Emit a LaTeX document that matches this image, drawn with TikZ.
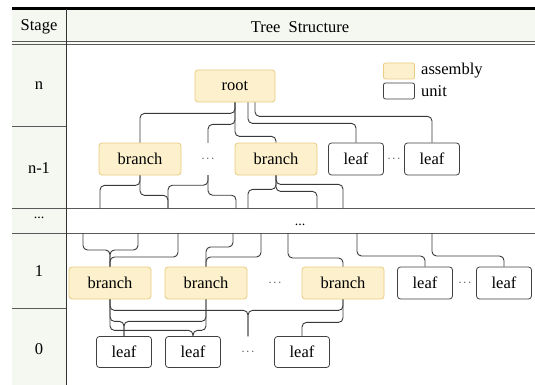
\documentclass[tikz,border=0pt]{standalone}
\usepackage[svgnames]{xcolor}
\usepackage{fontspec}
\setmainfont{Liberation Serif}
\usepackage{tikz}
\definecolor{assemblyfill}{HTML}{FDF1CD}
\definecolor{assemblyline}{HTML}{EACB82}
\definecolor{headfill}{HTML}{F5F7F1}
\colorlet{linkcol}{black!78}

\begin{document}
\begin{tikzpicture}[x=1pt,y=-1pt,
  every node/.style={font=\fontsize{16.5}{19}\selectfont, inner sep=0pt},
  box/.style={rounded corners=3pt, minimum height=32pt, line width=0.8pt},
  assembly/.style={box, draw=assemblyline, fill=assemblyfill, minimum width=82pt},
  unit/.style={box, draw=black!75, fill=white, minimum width=55pt},
  gap/.style={minimum height=32pt, font=\fontsize{11}{13}\selectfont},
  link/.style={draw=linkcol, line width=0.9pt, rounded corners=4.5pt},
  rule/.style={draw=black!65, line width=0.8pt},
]
\useasboundingbox (0,0) rectangle (535,385);
% table frame
\fill[headfill] (12,9) rectangle (535,43);
\fill[headfill] (12,43) rectangle (66,385);
\draw[line width=2.8pt] (12,8.5) -- (535,8.5);
\draw[rule] (12,41.5) -- (535,41.5) (12,44.3) -- (535,44.3);
\draw[rule] (12,126) -- (66,126) (12,308) -- (66,308);
\draw[rule] (12,208) -- (535,208) (12,233) -- (535,233);
\draw[black!80, line width=0.9pt] (66,9) -- (66,385);
\node (hStage) at (39,27) {Stage};
\node (hTree) at (300,27) {Tree\ \ Structure};
\foreach \s/\y [count=\i] in {n/86, n-1/168, 1/271, 0/349}
  \node (s\i) at (39,\y) {\s};
\node[font=\fontsize{14}{16}\selectfont] (sDots) at (39,218) {...};
\node[font=\fontsize{14}{16}\selectfont] (tDots) at (300,225) {...};
% legend
\node[assembly, minimum width=31pt, minimum height=16pt, rounded corners=2pt] (legA) at (399,71) {};
\node[unit, minimum width=31pt, minimum height=16pt, rounded corners=2pt] (legU) at (399,91) {};
\node[anchor=west] (legAtext) at (421,71) {assembly};
\node[anchor=west] (legUtext) at (421,91) {unit};
% stage n and n-1
\node[assembly, minimum width=80pt] (root) at (235,86) {root};
\node[assembly] (b1) at (140,159) {branch};
\node[gap] (g1) at (208,159) {$\cdots$};
\node[assembly] (b2) at (276,159) {branch};
\node[unit] (l1) at (356,159) {leaf};
\node[gap] (g2) at (394,159) {$\cdots$};
\node[unit] (l2) at (432,159) {leaf};
% stage 1 and 0
\node[assembly] (bA) at (110,283) {branch};
\node[assembly] (bB) at (206,283) {branch};
\node[gap] (g3) at (275,283) {$\cdots$};
\node[assembly] (bC) at (343,283) {branch};
\node[unit] (lA) at (425,283) {leaf};
\node[gap] (g4) at (465,283) {$\cdots$};
\node[unit] (lB) at (504,283) {leaf};
\node[unit, minimum height=31pt] (r1) at (124,352) {leaf};
\node[unit, minimum height=31pt] (r2) at (193,352) {leaf};
\node[gap, minimum height=31pt] (g5) at (248,352) {$\cdots$};
\node[unit, minimum height=31pt] (r3) at (302,352) {leaf};
% loose ends at the cut rows
\foreach \x [count=\i] in {100,168,236,248,317,343}
  \coordinate (d\i) at (\x,208);
\foreach \x [count=\i] in {83,138,178,233,261,288,357,432}
  \coordinate (t\i) at (\x,233);
% links
\foreach \a/\b/\d in {root/b1/11, root/g1/22, root/b2/34}
  \draw[link] (\a.south) -- ++(0,\d) -| (\b.north);
\draw[link] ([xshift=13pt]root.south) -- ++(0,21) -| (l1.north);
\draw[link] ([xshift=20pt]root.south) -- ++(0,14) -| (l2.north);
\foreach \a/\b/\d in {b1/d1/10, b1/d2/20, g1/d2/10, g1/d3/20, b2/d4/14, b2/d5/16, b2/d6/9}
  \draw[link] (\a.south) -- ++(0,\d) -| (\b);
\foreach \a/\b/\d in {t1/bA/17, t2/bA/17, t3/bA/24, t4/bB/14, t5/bB/24, t6/bC/25, t7/lA/23, t8/lB/23}
  \draw[link] (\a) -- ++(0,\d) -| (\b.north);
\foreach \a/\b/\d in {bA/g5/11, bC/g5/11, bA/r1/22, bB/r1/22, bA/r2/31, bB/r2/31, bC/r3/23}
  \draw[link] (\a.south) -- ++(0,\d) -| (\b.north);
\end{tikzpicture}
\end{document}
